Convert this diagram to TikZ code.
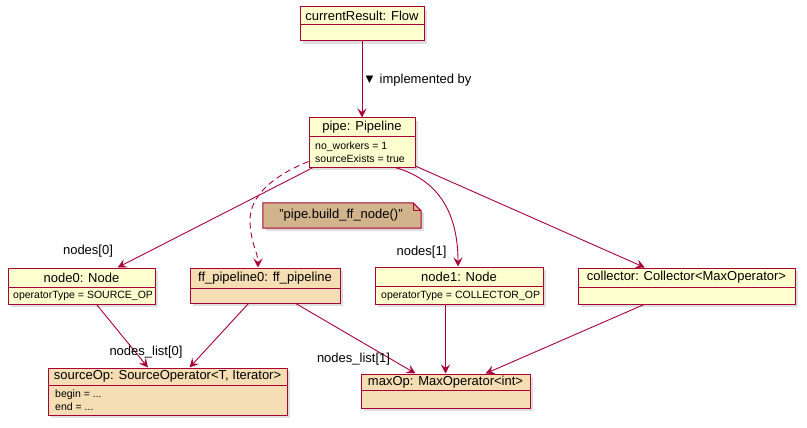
\documentclass[tikz,border=0pt]{standalone}
\usepackage{fontspec}
\setmainfont{Liberation Sans}
\usetikzlibrary{arrows.meta,shadows,fit,calc}
\definecolor{bord}{HTML}{A80036}
\definecolor{yel}{HTML}{FEFECE}
\definecolor{wheatc}{HTML}{F5DEB3}
\definecolor{notefill}{HTML}{D2B48C}
\tikzset{
  objbox/.style={draw=bord, line width=1pt, inner sep=0pt,
    drop shadow={shadow xshift=3pt, shadow yshift=-3pt, opacity=0.25}},
  divline/.style={draw=bord, line width=1pt},
  titletext/.style={font=\fontsize{13}{15}\selectfont, inner sep=0pt},
  attrtext/.style={font=\fontsize{10.5}{12}\selectfont, inner sep=0pt, anchor=west},
  lbl/.style={font=\fontsize{13}{15}\selectfont, inner sep=0pt},
  conn/.style={draw=bord, line width=0.9pt, -{Stealth[length=9pt,width=9pt,inset=3.5pt]}},
}
\newcommand\umlbox[8]{%
  \node[objbox, fill=#7, fit={(#2,#3) (#4,#5)}] (#1) {};
  \draw[divline] (#2,#6) -- (#4,#6);
  \node[titletext] (#1-t) at ({(#2+#4)/2},{(#3+#6)/2}) {#8};
}
\begin{document}
\begin{tikzpicture}[x=1pt,y=-1pt]
\useasboundingbox (0,0) rectangle (807,428);

\umlbox{cr}{300}{7}{424}{41}{25}{yel}{currentResult: Flow}
\umlbox{pipe}{309}{118}{415}{167}{137}{yel}{pipe: Pipeline}
\node[attrtext] (pipe-a1) at (315,146.5) {no\_workers = 1};
\node[attrtext] (pipe-a2) at (315,158.5) {sourceExists = true};

\umlbox{node0}{8}{268}{155}{304}{287}{yel}{node0: Node}
\node[attrtext] (node0-a1) at (13,296) {operatorType = SOURCE\_OP};

\umlbox{ff}{190}{268}{340}{303}{288}{wheatc}{ff\_pipeline0: ff\_pipeline}

\umlbox{node1}{375}{267}{543}{304}{286}{yel}{node1: Node}
\node[attrtext] (node1-a1) at (381,295.5) {operatorType = COLLECTOR\_OP};

\umlbox{coll}{578}{268}{795}{304}{287}{yel}{collector: Collector<MaxOperator>}

\umlbox{src}{48}{368}{287}{415}{385}{wheatc}{sourceOp: SourceOperator<T, Iterator>}
\node[attrtext] (src-a1) at (55,394.5) {begin = ...};
\node[attrtext] (src-a2) at (55,406.5) {end = ...};

\umlbox{maxop}{361}{374}{530}{408}{390}{wheatc}{maxOp: MaxOperator<int>}

% note
\node[inner sep=0pt, fit={(263,203) (421,228)}] (note) {};
\filldraw[fill=notefill, draw=bord, line width=1pt,
  drop shadow={shadow xshift=3pt, shadow yshift=-3pt, opacity=0.25}]
  (note.north west) -- ($(note.north east)+(-8,0)$) -- ($(note.north east)+(0,8)$)
  -- (note.south east) -- (note.south west) -- cycle;
\draw[divline] ($(note.north east)+(-8,0)$) -- ($(note.north east)+(-8,8)$) -- ($(note.north east)+(0,8)$);
\node[lbl] (note-t) at (341,215.5) {"pipe.build\_ff\_node()"};

% connectors
\draw[conn] (cr) -- (pipe);
\node[lbl, anchor=west] (impl) at (363,80) {▼ implemented by};
\draw[conn] (pipe) -- (node0);
\draw[conn, dash pattern=on 6pt off 4pt] ($(pipe.south west)+(0,-6)$)
  .. controls (275,175) and (249,195) .. (250,222)
  .. controls (251,245) and (258,252) .. ($(ff.north)+(-7,0)$);
\draw[conn] ($(pipe.south)+(33,0)$) .. controls (440,180) and (458,215) .. ($(node1.north)+(-1,0)$);
\draw[conn] (pipe) -- (coll);
\draw[conn] (node0) -- (src);
\draw[conn] (ff) -- (src);
\draw[conn] (ff) -- (maxop);
\draw[conn] (node1.south -| maxop.north) -- (maxop.north);
\draw[conn] (coll) -- (maxop);

\node[lbl] (l-n0) at (88,251) {nodes[0]};
\node[lbl] (l-n1) at (421.5,252) {nodes[1]};
\node[lbl] (l-nl0) at (146,352) {nodes\_list[0]};
\node[lbl] (l-nl1) at (353.5,359) {nodes\_list[1]};
\end{tikzpicture}
\end{document}
